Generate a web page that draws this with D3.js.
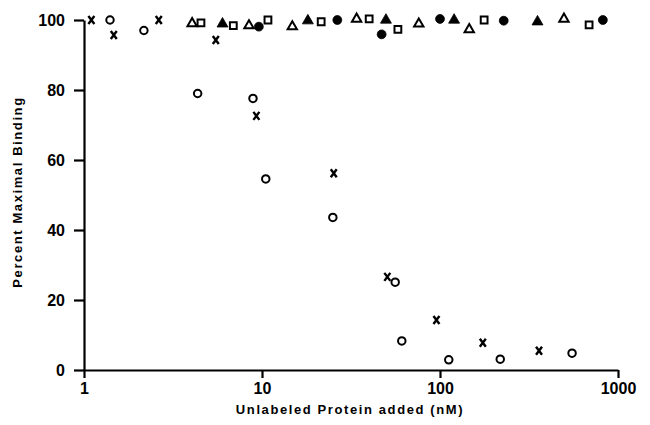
<!DOCTYPE html>
<html>
<head>
<meta charset="utf-8">
<script src="https://cdn.jsdelivr.net/npm/d3@7"></script>
<style>
  body { margin: 0; background: #fff; }
  svg { display: block; }
  .axis path, .axis line { stroke: #000; stroke-width: 2.2px; }
  .axis text { font-family: "Liberation Sans", Arial, sans-serif; font-size: 16px; font-weight: bold; fill: #000; }
  .title { font-family: "Liberation Sans", Arial, sans-serif; font-size: 13px; font-weight: bold; letter-spacing: 1.6px; fill: #000; }
</style>
</head>
<body>
<svg id="myGraph" width="650" height="425"></svg>
<script>
// tick labels
var xTicks = [1, 10, 100, 1000];
var yTicks = [0, 20, 40, 60, 80, 100];

// open circles (competing protein)
var circleX = [1.40, 2.17, 4.35, 8.9, 10.5, 25.0, 56, 61, 112, 218, 552];
var circleY = [100, 97, 79, 77.6, 54.6, 43.6, 25.1, 8.3, 2.9, 3.1, 4.8];

// crosses
var crossX = [1.10, 1.47, 2.63, 5.5, 9.3, 25.3, 50.6, 95.5, 174, 360];
var crossY = [100, 95.7, 100, 94.3, 72.6, 56.2, 26.6, 14.3, 7.8, 5.5];

// open triangles
var openTriX = [4.05, 8.45, 14.8, 34, 76, 146, 497];
var openTriY = [99, 98.4, 98.1, 100.3, 98.9, 97.3, 100.3];

// filled triangles
var fillTriX = [6.0, 18.1, 49.7, 120, 353];
var fillTriY = [98.9, 99.8, 100, 100, 99.5];

// open squares
var openSqX = [4.54, 6.9, 10.8, 21.5, 40, 58, 177, 688];
var openSqY = [99.2, 98.4, 100, 99.5, 100.3, 97.3, 100, 98.6];

// filled circles
var fillCircX = [9.6, 26.5, 47, 100, 228, 822];
var fillCircY = [98.1, 100, 95.9, 100.3, 99.8, 100];

var svg = d3.select("#myGraph");

var x = d3.scaleLog().domain([1, 1000]).range([84, 618]);
var y = d3.scaleLinear().domain([0, 100]).range([370, 20]);

// axis x
svg.append("g")
  .attr("class", "axis")
  .attr("transform", "translate(0,370)")
  .call(d3.axisBottom(x).tickValues(xTicks).tickSize(8).tickSizeOuter(0).tickPadding(5)
    .tickFormat(d3.format("d")));

// axis y
svg.append("g")
  .attr("class", "axis")
  .attr("transform", "translate(84,0)")
  .call(d3.axisLeft(y).tickValues(yTicks).tickSize(10).tickSizeOuter(0).tickPadding(9)
    .tickFormat(d3.format("d")));

svg.append("text")
  .attr("class", "title")
  .attr("x", 350)
  .attr("y", 414)
  .attr("text-anchor", "middle")
  .text("Unlabeled Protein added (nM)");

svg.append("text")
  .attr("class", "title")
  .attr("transform", "translate(22,192) rotate(-90)")
  .attr("text-anchor", "middle")
  .text("Percent Maximal Binding");

function pairs(xs, ys) {
  return xs.map(function (d, i) { return [d, ys[i]]; });
}

function drawSymbols(xs, ys, type, size, filled) {
  svg.append("g").selectAll("path")
    .data(pairs(xs, ys))
    .enter()
    .append("path")
    .attr("d", d3.symbol().type(type).size(size))
    .attr("transform", function (d) { return "translate(" + x(d[0]) + "," + y(d[1]) + ")"; })
    .attr("fill", filled ? "#000" : "#fff")
    .attr("stroke", "#000")
    .attr("stroke-width", filled ? 0.8 : 2);
}

drawSymbols(openTriX, openTriY, d3.symbolTriangle, 38, false);
drawSymbols(openSqX, openSqY, d3.symbolSquare, 46, false);
drawSymbols(fillTriX, fillTriY, d3.symbolTriangle, 52, true);
drawSymbols(fillCircX, fillCircY, d3.symbolCircle, 62, true);
drawSymbols(circleX, circleY, d3.symbolCircle, 44, false);

// crosses
svg.append("g").selectAll("path")
  .data(pairs(crossX, crossY))
  .enter()
  .append("path")
  .attr("d", "M-3,-4L3,4M3,-4L-3,4")
  .attr("transform", function (d) { return "translate(" + x(d[0]) + "," + y(d[1]) + ")"; })
  .attr("fill", "none")
  .attr("stroke", "#000")
  .attr("stroke-width", 2.4);
</script>
</body>
</html>
